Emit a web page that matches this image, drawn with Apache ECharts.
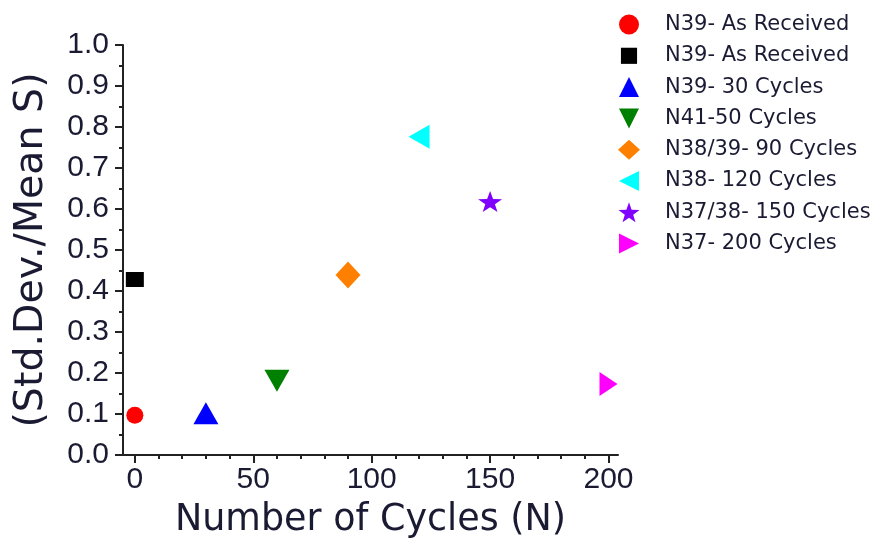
<!DOCTYPE html>
<html>
<head>
<meta charset="utf-8">
<script src="https://cdn.jsdelivr.net/npm/echarts@6/dist/echarts.min.js"></script>
<style>
html,body{margin:0;padding:0;background:#fff;}
#chart{width:889px;height:539px;}
</style>
</head>
<body>
<div id="chart"></div>
<script>
// ---- data ----
const seriesNames = [
  'N39- As Received',
  'N39- As Received',
  'N39- 30 Cycles',
  'N41-50 Cycles',
  'N38/39- 90 Cycles',
  'N38- 120 Cycles',
  'N37/38- 150 Cycles',
  'N37- 200 Cycles'
];
const cycles = [0, 0, 30, 60, 90, 120, 150, 200];
const covValues = [0.097, 0.428, 0.102, 0.181, 0.439, 0.776, 0.618, 0.173];
const xMajorTicks = [0, 50, 100, 150, 200];
const xMinorTicks = [10, 20, 30, 40, 60, 70, 80, 90, 110, 120, 130, 140, 160, 170, 180, 190];

// ---- styles ----
const starPath = 'path://M50,0 L61.76,33.82 L97.55,34.55 L69.02,56.18 L79.39,90.45 L50,70 L20.61,90.45 L30.98,56.18 L2.45,34.55 L38.24,33.82 Z';
const triUp = 'path://M50,0 L100,100 L0,100 Z';
const triDown = 'path://M0,0 L100,0 L50,100 Z';
const triLeft = 'path://M0,50 L100,0 L100,100 Z';
const triRight = 'path://M0,0 L100,50 L0,100 Z';
const smallSquare = 'path://M-12,-12 M0,0 L100,0 L100,100 L0,100 Z M112,112';
const markStyles = [
  {color: '#FF0000', symbol: 'circle', size: 17},
  {color: '#000000', symbol: 'rect', size: [18, 15]},
  {color: '#0000FF', symbol: triUp, size: [25, 22]},
  {color: '#008000', symbol: triDown, size: [25, 22]},
  {color: '#FF8000', symbol: 'diamond', size: [25, 27]},
  {color: '#00FFFF', symbol: triLeft, size: [21, 24]},
  {color: '#8000FF', symbol: starPath, size: [24, 21]},
  {color: '#FF00FF', symbol: triRight, size: [18, 24]}
];
const legendIcons = ['circle', smallSquare, triUp, triDown, 'diamond', triLeft, starPath, triRight];

const textColor = '#1a1a33';
const axisColor = '#222';

const seriesKeys = seriesNames.map((n, i) => 's' + i);

const series = seriesNames.map((name, i) => ({
  name: seriesKeys[i],
  type: 'scatter',
  xAxisIndex: 0,
  yAxisIndex: 0,
  symbol: markStyles[i].symbol,
  symbolSize: markStyles[i].size,
  itemStyle: {color: markStyles[i].color, opacity: 1},
  emphasis: {disabled: true},
  clip: false,
  data: [[cycles[i], covValues[i]]]
}));

const chart = echarts.init(document.getElementById('chart'), null, {renderer: 'canvas'});
chart.setOption({
  animation: false,
  backgroundColor: '#ffffff',
  grid: {left: 123, right: 271, top: 45, bottom: 84, containLabel: false, outerBoundsMode: 'none'},
  legend: {
    orient: 'vertical',
    left: 618,
    top: 14,
    padding: 0,
    itemWidth: 22,
    itemHeight: 20,
    itemGap: 10.3,
    selectedMode: false,
    data: seriesKeys.map((k, i) => ({name: k, icon: legendIcons[i]})),
    formatter: k => seriesNames[Number(k.slice(1))],
    textStyle: {
      fontFamily: 'DejaVu Sans',
      fontSize: 21,
      lineHeight: 20,
      color: textColor,
      padding: [0, 0, 0, 20]
    }
  },
  xAxis: [
    {
      type: 'value',
      min: -5,
      max: 204,
      name: 'Number of Cycles (N)',
      nameLocation: 'middle',
      nameGap: 47,
      nameTextStyle: {fontFamily: 'DejaVu Sans', fontSize: 36.5, color: textColor},
      axisLine: {show: true, onZero: false, lineStyle: {color: axisColor, width: 2}},
      axisTick: {show: true, customValues: xMajorTicks, length: 8, lineStyle: {color: axisColor, width: 2}},
      axisLabel: {customValues: xMajorTicks, margin: 10, fontFamily: 'Liberation Sans', fontSize: 30, color: textColor},
      splitLine: {show: false}
    },
    {
      type: 'value',
      min: -5,
      max: 204,
      position: 'bottom',
      axisLine: {show: false, onZero: false},
      axisTick: {show: true, customValues: xMinorTicks, length: 4, lineStyle: {color: axisColor, width: 2}},
      axisLabel: {show: false},
      splitLine: {show: false}
    }
  ],
  yAxis: {
    type: 'value',
    min: 0,
    max: 1,
    interval: 0.1,
    name: '(Std.Dev./Mean S)',
    nameLocation: 'middle',
    nameGap: 71,
    nameTextStyle: {fontFamily: 'DejaVu Sans', fontSize: 39.5, color: textColor},
    axisLine: {show: true, onZero: false, lineStyle: {color: axisColor, width: 2}},
    axisTick: {show: true, length: 8, lineStyle: {color: axisColor, width: 2}},
    minorTick: {show: true, splitNumber: 2, length: 4, lineStyle: {color: axisColor, width: 2}},
    axisLabel: {
      margin: 14,
      fontFamily: 'Liberation Sans',
      fontSize: 30,
      color: textColor,
      formatter: v => v.toFixed(1)
    },
    splitLine: {show: false},
    minorSplitLine: {show: false}
  },
  series: series
});
</script>
</body>
</html>
